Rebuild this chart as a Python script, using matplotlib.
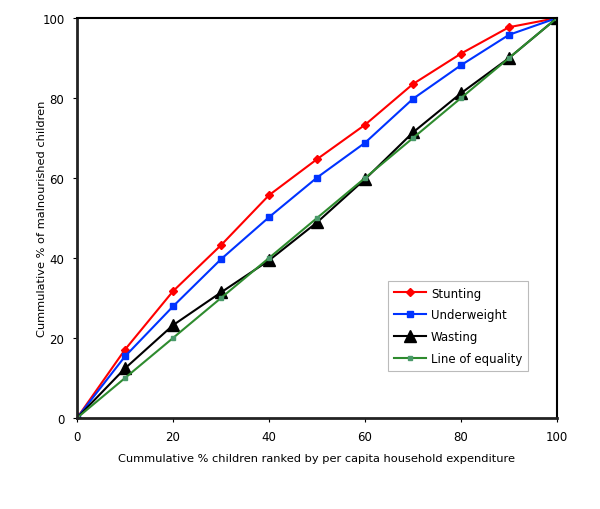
import matplotlib
matplotlib.use("Agg")
import matplotlib.pyplot as plt

x = [0, 10, 20, 30, 40, 50, 60, 70, 80, 90, 100]
stunting = [0, 17.1, 31.7, 43.2, 55.7, 64.7, 73.3, 83.5, 91.1, 97.7, 100]
underweight = [0, 15.4, 27.9, 39.7, 50.2, 60.1, 68.8, 79.8, 88.2, 95.8, 100]
wasting = [0, 12.4, 23.2, 31.4, 39.4, 48.9, 59.7, 71.4, 81.2, 90.0, 100]
equality = [0, 10, 20, 30, 40, 50, 60, 70, 80, 90, 100]
xticks = [0, 20, 40, 60, 80, 100]
yticks = [0, 20, 40, 60, 80, 100]

plt.rcParams['font.family'] = ['DejaVu Sans']
fig = plt.figure(figsize=(6, 5.1), dpi=100)
ax = fig.add_axes([77/600, 91/510, 480/600, 400/510])

ax.plot(x, stunting, color='#ff0000', marker='D', markersize=4, lw=1.5, label='Stunting')
ax.plot(x, underweight, color='#0033ff', marker='s', markersize=5, lw=1.5, label='Underweight')
ax.plot(x, wasting, color='black', marker='^', markersize=8, lw=1.5, label='Wasting')
ax.plot(x, equality, color='#2e8b2e', marker='s', markersize=3, markerfacecolor='#4a9a6a',
        markeredgecolor='#4a9a6a', lw=1.5, label='Line of equality')

ax.set_xlim(0, 100)
ax.set_ylim(0, 100)
ax.set_xticks(xticks)
ax.set_yticks(yticks)
ax.tick_params(labelsize=8.5, length=3, width=0.8, direction='out')
ax.tick_params(axis='x', pad=6)
ax.tick_params(axis='y', pad=6)
for side in ['left', 'bottom']:
    ax.spines[side].set_linewidth(2)
    ax.spines[side].set_color('#222222')
for side in ['top', 'right']:
    ax.spines[side].set_linewidth(1.5)
    ax.spines[side].set_color('black')

ax.set_xlabel('Cummulative % children ranked by per capita household expenditure', fontsize=8.2)
ax.set_ylabel('Cummulative % of malnourished children', fontsize=8.2)
ax.xaxis.set_label_coords(0.5, -0.088)
ax.yaxis.set_label_coords(-0.062, 0.5)

leg = ax.legend(loc='lower right', bbox_to_anchor=(0.94, 0.1175), fontsize=8.5, frameon=True,
                fancybox=False, edgecolor='#bbbbbb', framealpha=1, handlelength=2.7,
                handletextpad=0.4, borderpad=0.5, labelspacing=0.75, borderaxespad=0)
leg.get_frame().set_linewidth(0.8)

fig.savefig('out.png', dpi=100)
